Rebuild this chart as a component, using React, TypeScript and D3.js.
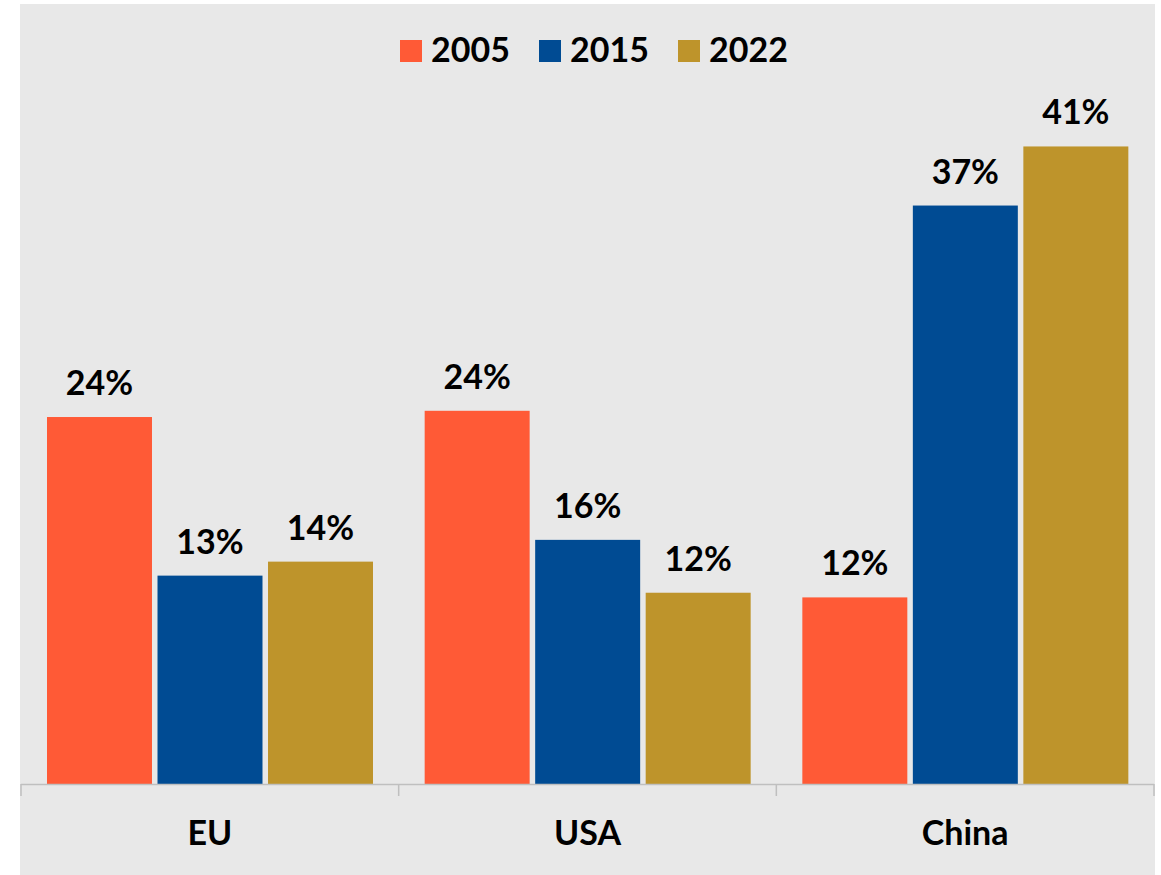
'use client';

import React, { useEffect, useRef } from 'react';
import * as d3 from 'd3';

const regions = ['EU', 'USA', 'China'];
const years = ['2005', '2015', '2022'];
const yearColors = ['#FF5A36', '#004B93', '#BE942B'];

// share in %, one array per year (EU, USA, China)
const values2005 = [23.6, 24.0, 12.0];
const values2015 = [13.4, 15.7, 37.2];
const values2022 = [14.3, 12.3, 41.0];

const seriesValues = [values2005, values2015, values2022];

const FONT = 'Lato, "Open Sans", sans-serif';

const App: React.FC = () => {
  const chartRef = useRef<SVGSVGElement | null>(null);

  useEffect(() => {
    if (!chartRef.current) return;

    const width = 1161;
    const height = 875;
    const baseline = 784;

    const svg = d3.select(chartRef.current);
    svg.selectAll('*').remove();
    svg.attr('width', width).attr('height', height);

    svg
      .append('rect')
      .attr('x', 20)
      .attr('y', 4)
      .attr('width', 1135)
      .attr('height', 871)
      .attr('fill', '#E8E8E8');

    const x = d3.scaleBand<string>().domain(regions).range([21, 1154]).padding(0);
    const xInner = d3
      .scaleBand<string>()
      .domain(years)
      .range([26, 352])
      .paddingInner(0.05)
      .paddingOuter(0);
    const y = d3.scaleLinear().domain([0, 45]).range([baseline, baseline - 45 * 15.55]);

    const fmt = (v: number) => d3.format('.0f')(v) + '%';

    years.forEach((yr, si) => {
      const g = svg.append('g');
      g.selectAll('rect')
        .data(regions)
        .enter()
        .append('rect')
        .attr('x', (d) => x(d)! + xInner(yr)!)
        .attr('y', (d, i) => y(seriesValues[si][i]))
        .attr('width', xInner.bandwidth())
        .attr('height', (d, i) => baseline - y(seriesValues[si][i]))
        .attr('fill', yearColors[si]);

      g.selectAll('text')
        .data(regions)
        .enter()
        .append('text')
        .attr('x', (d) => x(d)! + xInner(yr)! + xInner.bandwidth() / 2)
        .attr('y', (d, i) => y(seriesValues[si][i]) - 22)
        .attr('text-anchor', 'middle')
        .style('font-family', FONT)
        .style('font-weight', 700)
        .style('font-size', '34px')
        .style('fill', '#000')
        .text((d, i) => fmt(seriesValues[si][i]));
    });

    // category axis
    const axis = svg.append('g');
    axis
      .append('line')
      .attr('x1', x.range()[0])
      .attr('x2', x.range()[1])
      .attr('y1', baseline + 0.5)
      .attr('y2', baseline + 0.5)
      .attr('stroke', '#BFBFBF')
      .attr('stroke-width', 1.5);

    const tickXs = regions.map((r) => x(r)!).concat([x.range()[1]]);
    axis
      .selectAll('line.tick')
      .data(tickXs)
      .enter()
      .append('line')
      .attr('class', 'tick')
      .attr('x1', (d) => d)
      .attr('x2', (d) => d)
      .attr('y1', baseline)
      .attr('y2', baseline + 12)
      .attr('stroke', '#BFBFBF')
      .attr('stroke-width', 1.5);

    axis
      .selectAll('text')
      .data(regions)
      .enter()
      .append('text')
      .attr('x', (d) => x(d)! + x.bandwidth() / 2)
      .attr('y', 845)
      .attr('text-anchor', 'middle')
      .style('font-family', FONT)
      .style('font-weight', 700)
      .style('font-size', '34px')
      .style('fill', '#000')
      .text((d) => d);

    // legend
    const legendX = [400, 539, 678];
    const legend = svg.append('g');
    years.forEach((yr, i) => {
      legend
        .append('rect')
        .attr('x', legendX[i])
        .attr('y', 40)
        .attr('width', 22)
        .attr('height', 22)
        .attr('fill', yearColors[i]);
      legend
        .append('text')
        .attr('x', legendX[i] + 31)
        .attr('y', 62)
        .style('font-family', FONT)
        .style('font-weight', 700)
        .style('font-size', '34px')
        .style('fill', '#000')
        .text(yr);
    });
  }, []);

  return <svg ref={chartRef} style={{ position: 'absolute', left: 0, top: 0, display: 'block' }}></svg>;
};

export default App;
